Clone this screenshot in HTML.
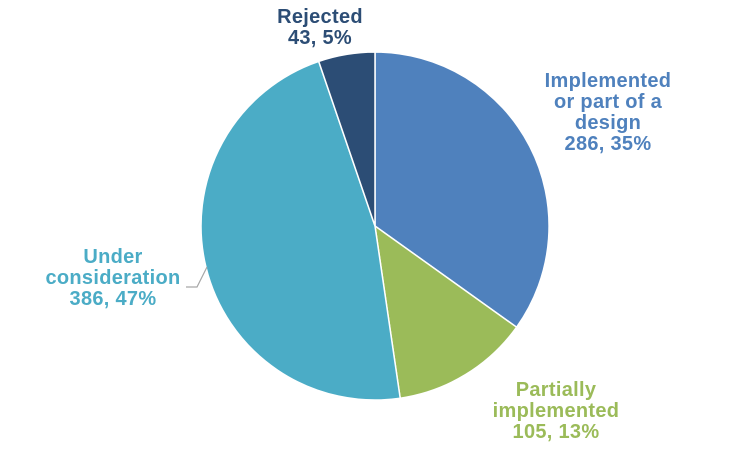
<!DOCTYPE html>
<html><head><meta charset="utf-8"><style>
body{margin:0;background:#fff;}
svg text{font-family:"Liberation Sans",Arial,sans-serif;font-weight:bold;font-size:20px;letter-spacing:0.3px;}
</style></head><body>
<svg width="750" height="449" viewBox="0 0 750 449" xmlns="http://www.w3.org/2000/svg">
<rect width="750" height="449" fill="#fff"/>
<g stroke="#fff" stroke-width="1.5" stroke-linejoin="round">
<path d="M375,226 L375,52 A174,174 0 0 1 516.6,327.2 Z" fill="#4F81BD"/>
<path d="M375,226 L516.6,327.2 A174,174 0 0 1 400.2,398.2 Z" fill="#9BBB59"/>
<path d="M375,226 L400.2,398.2 A174,174 0 0 1 318.7,61.4 Z" fill="#4BACC6"/>
<path d="M375,226 L318.7,61.4 A174,174 0 0 1 375,52 Z" fill="#2C4D75"/>
</g>
<polyline points="186,287 197,287 207,267" fill="none" stroke="#a6a6a6" stroke-width="1.2"/>
<g fill="#2C4D75" text-anchor="middle"><text x="320" y="23">Rejected</text><text x="320" y="44">43, 5%</text></g>
<g fill="#4F81BD" text-anchor="middle"><text x="608" y="87">Implemented</text><text x="608" y="108">or part of a</text><text x="608" y="129">design</text><text x="608" y="150">286, 35%</text></g>
<g fill="#4BACC6" text-anchor="middle"><text x="113" y="263">Under</text><text x="113" y="284">consideration</text><text x="113" y="305">386, 47%</text></g>
<g fill="#9BBB59" text-anchor="middle"><text x="556" y="396">Partially</text><text x="556" y="417">implemented</text><text x="556" y="438">105, 13%</text></g>
</svg>
</body></html>
